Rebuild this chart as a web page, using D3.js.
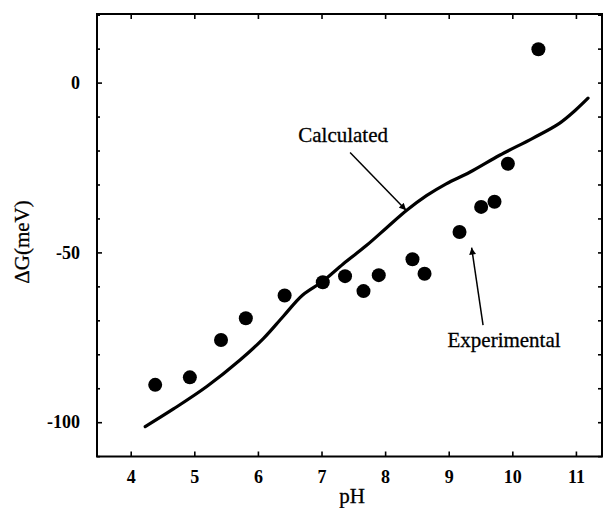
<!DOCTYPE html>
<html><head><meta charset="utf-8">
<script src="https://cdn.jsdelivr.net/npm/d3@7"></script>
<style>body{margin:0;background:#fff;} svg{display:block;}</style>
</head><body>
<script>
const expPH = [4.385, 4.93, 5.42, 5.81, 6.42, 7.02, 7.37, 7.66, 7.90, 8.43, 8.62, 9.17, 9.51, 9.72, 9.93, 10.41];
const expDG = [-89.0, -86.8, -75.8, -69.4, -62.7, -58.8, -57.0, -61.4, -56.7, -52.0, -56.3, -44.0, -36.6, -35.1, -23.9, 9.8];
const calcPH = [4.228, 4.672, 5.196, 5.719, 6.085, 6.40, 6.70, 7.027, 7.34, 7.71, 8.02, 8.34, 8.65, 8.96, 9.33, 9.80, 10.32, 10.74, 11.00, 11.19];
const calcDG = [-101.3, -96.1, -89.5, -81.7, -75.4, -68.8, -62.6, -58.4, -53.4, -47.9, -42.8, -37.6, -33.3, -29.8, -26.4, -21.4, -16.4, -12.0, -8.0, -4.6];
const xTicks = [4, 5, 6, 7, 8, 9, 10, 11];
const yTicks = [0, -50, -100];
const yMinor = [20, 10, 0, -10, -20, -30, -40, -50, -60, -70, -80, -90, -100, -110];
const labels = {calc: "Calculated", exp: "Experimental", x: "pH", y: "ΔG(meV)"};

const W = 604, H = 508;
const L = 97, R = 602, T = 14, B = 456.5;
const svg = d3.select("body").append("svg").attr("width", W).attr("height", H);
const x = d3.scaleLinear().domain([3.47, 11.41]).range([L, R]);
const y = d3.scaleLinear().domain([-110.1, 20.2]).range([B, T]);
const font = "'Liberation Serif', 'Times New Roman', serif";

svg.append("defs").append("marker").attr("id", "ah")
  .attr("viewBox", "0 0 10 10").attr("refX", 10).attr("refY", 5)
  .attr("markerWidth", 9).attr("markerHeight", 7).attr("markerUnits", "userSpaceOnUse")
  .attr("orient", "auto")
  .append("path").attr("d", "M0,0 L10,5 L0,10 z").attr("fill", "#000");

// frame
svg.append("rect").attr("x", L).attr("y", T).attr("width", R - L).attr("height", B - T)
  .attr("fill", "none").attr("stroke", "#000").attr("stroke-width", 2);

// bottom axis
const gx = svg.append("g").attr("transform", `translate(0,${B})`)
  .call(d3.axisBottom(x).tickValues(xTicks).tickSizeInner(-5).tickSizeOuter(0).tickPadding(14));
// top ticks
svg.append("g").attr("transform", `translate(0,${T})`)
  .call(d3.axisTop(x).tickValues(xTicks).tickSizeInner(-5).tickSizeOuter(0).tickFormat(""));
// left axis minor + major
svg.append("g").attr("transform", `translate(${L},0)`)
  .call(d3.axisLeft(y).tickValues(yMinor.filter(v => !yTicks.includes(v))).tickSizeInner(-3).tickSizeOuter(0).tickFormat(""));
const gy = svg.append("g").attr("transform", `translate(${L},0)`)
  .call(d3.axisLeft(y).tickValues(yTicks).tickSizeInner(-5).tickSizeOuter(0).tickPadding(17).tickFormat(d3.format("d")));
// right ticks
svg.append("g").attr("transform", `translate(${R},0)`)
  .call(d3.axisRight(y).tickValues(yMinor).tickSizeInner(-4).tickSizeOuter(0).tickFormat(""));

svg.selectAll(".domain").remove();
svg.selectAll(".tick line").attr("stroke", "#000").attr("stroke-width", 1.6);
[gx, gy].forEach(g => g.selectAll("text").attr("font-family", font).attr("font-size", 18)
  .attr("font-weight", "bold").attr("fill", "#000"));
gy.selectAll("text").text(d => d === 0 ? "0" : String(d).replace("−", "-"));

// calculated curve
const calc = calcPH.map((p, i) => [p, calcDG[i]]);
svg.append("path").datum(calc)
  .attr("d", d3.line().x(d => x(d[0])).y(d => y(d[1])).curve(d3.curveCatmullRom))
  .attr("fill", "none").attr("stroke", "#000").attr("stroke-width", 3.2).attr("stroke-linecap", "round");

// experimental points
svg.selectAll("circle.e").data(expPH.map((p, i) => [p, expDG[i]])).enter()
  .append("circle").attr("cx", d => x(d[0])).attr("cy", d => y(d[1])).attr("r", 7).attr("fill", "#000");

// annotations
svg.append("line").attr("x1", x(7.449)).attr("y1", y(-20.6)).attr("x2", x(8.33)).attr("y2", y(-37.6))
  .attr("stroke", "#000").attr("stroke-width", 1.5).attr("marker-end", "url(#ah)");
svg.append("text").attr("x", x(7.34)).attr("y", y(-17.5)).attr("text-anchor", "middle")
  .attr("font-family", font).attr("font-size", 21).attr("stroke", "#000").attr("stroke-width", 0.3).text(labels.calc);
svg.append("line").attr("x1", x(9.54)).attr("y1", y(-71.4)).attr("x2", x(9.36)).attr("y2", y(-48.6))
  .attr("stroke", "#000").attr("stroke-width", 1.5).attr("marker-end", "url(#ah)");
svg.append("text").attr("x", x(9.87)).attr("y", y(-77.8)).attr("text-anchor", "middle")
  .attr("font-family", font).attr("font-size", 21).attr("stroke", "#000").attr("stroke-width", 0.3).text(labels.exp);

// axis labels
svg.append("text").attr("x", 352).attr("y", 503).attr("text-anchor", "middle")
  .attr("font-family", font).attr("font-size", 21).attr("stroke", "#000").attr("stroke-width", 0.3).text(labels.x);
svg.append("text").attr("transform", "translate(29,242) rotate(-90)").attr("text-anchor", "middle")
  .attr("font-family", font).attr("font-size", 21).attr("stroke", "#000").attr("stroke-width", 0.3).text(labels.y);
</script>
</body></html>
